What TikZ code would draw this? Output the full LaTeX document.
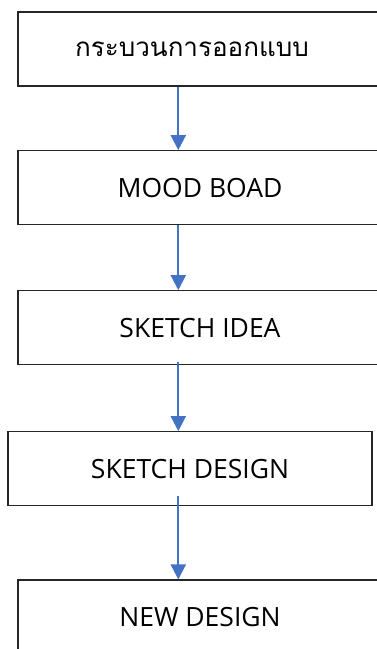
\documentclass[tikz,border=0pt]{standalone}
\usepackage{fontspec}
\setmainfont{Open Sans}
\newfontfamily\thaifont[Script=Thai]{Loma}
\usetikzlibrary{arrows.meta}
\definecolor{arrblue}{HTML}{4472C4}
\definecolor{boxline}{HTML}{262626}
\tikzset{
  stepbox/.style={draw=boxline, line width=1.2pt, fill=white, minimum height=74pt, inner sep=0pt, font=\fontsize{26.5}{30}\selectfont},
  arr/.style={draw=arrblue, line width=2.2pt, -{Triangle[width=15pt,length=15pt]}}
}
\begin{document}
\begin{tikzpicture}[x=1pt,y=-1pt]
\useasboundingbox (0,0) rectangle (377,649);
\clip (0,0) rectangle (377,649);
\fill[white] (0,0) rectangle (377,649);
\node[stepbox, minimum width=364pt] (b1) at (200,49) {\thaifont\fontsize{26}{30}\selectfont\kern-16pt กระบวนการออกแบบ};
\node[stepbox, minimum width=364pt] (b2) at (200,187.7) {MOOD BOAD};
\node[stepbox, minimum width=364pt] (b3) at (200,327.7) {SKETCH IDEA};
\node[stepbox, minimum width=364pt] (b4) at (190,468.7) {SKETCH DESIGN};
\node[stepbox, minimum width=364pt] (b5) at (200,617) {NEW DESIGN};
\coordinate (ax) at (178.3,0);
\draw[arr] (b1.south -| ax) -- (b2.north -| ax);
\draw[arr] (b2.south -| ax) -- (b3.north -| ax);
\draw[arr] ([yshift=3.5pt]b3.south -| ax) -- (b4.north -| ax);
\draw[arr] ([yshift=10pt]b4.south -| ax) -- (b5.north -| ax);
\end{tikzpicture}
\end{document}
